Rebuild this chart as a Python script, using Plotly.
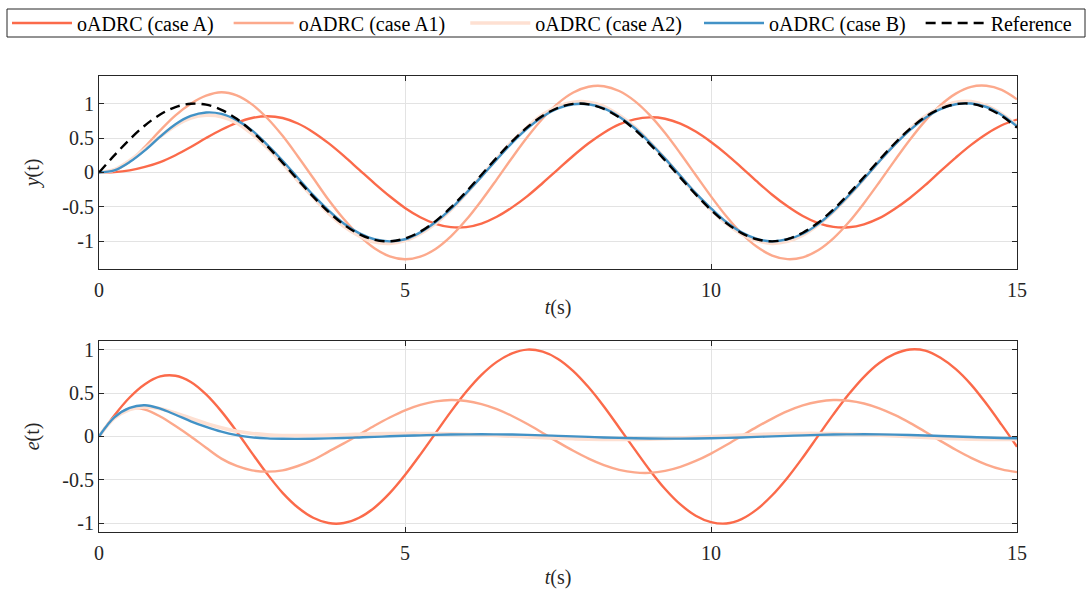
import plotly.graph_objects as go
from plotly.subplots import make_subplots

# time grid (s), 0.25 s step
t = [i * 0.25 for i in range(61)]

ref = [0.0, 0.247, 0.479, 0.682, 0.841, 0.949, 0.997, 0.984, 0.909, 0.778, 0.598, 0.382, 0.141,
       -0.108, -0.351, -0.572, -0.757, -0.895, -0.978, -0.999, -0.959, -0.859, -0.706, -0.508, -0.279,
       -0.033, 0.215, 0.450, 0.657, 0.823, 0.938, 0.995, 0.989, 0.922, 0.798, 0.625, 0.412, 0.174,
       -0.075, -0.319, -0.544, -0.735, -0.880, -0.970, -1.000, -0.967, -0.875, -0.730, -0.537, -0.312,
       -0.066, 0.182, 0.420, 0.632, 0.804, 0.925, 0.991, 0.997, 0.935, 0.819, 0.650]

y_A = [0.0, 0.005, 0.03, 0.08, 0.15, 0.25, 0.37, 0.50, 0.62, 0.72, 0.79, 0.815, 0.79,
       0.71, 0.585, 0.425, 0.24, 0.041, -0.158, -0.346, -0.515, -0.650, -0.745, -0.794, -0.793,
       -0.742, -0.644, -0.507, -0.343, -0.153, 0.045, 0.242, 0.423, 0.577, 0.697, 0.771, 0.800, 0.779,
       0.708, 0.593, 0.442, 0.267, 0.071, -0.131, -0.323, -0.492, -0.633, -0.736, -0.791, -0.796,
       -0.753, -0.664, -0.530, -0.370, -0.185, 0.019, 0.216, 0.400, 0.559, 0.685, 0.768]

y_A1 = [0.0, 0.027, 0.159, 0.372, 0.611, 0.829, 0.997, 1.114, 1.164, 1.118, 0.988, 0.787, 0.531,
        0.232, -0.081, -0.397, -0.677, -0.915, -1.101, -1.217, -1.260, -1.222, -1.110, -0.928, -0.688,
        -0.406, -0.100, 0.214, 0.514, 0.783, 1.003, 1.160, 1.244, 1.252, 1.182, 1.039, 0.831, 0.571,
        0.275, -0.037, -0.347, -0.636, -0.886, -1.080, -1.206, -1.258, -1.232, -1.130, -0.957, -0.724,
        -0.446, -0.142, 0.172, 0.475, 0.749, 0.976, 1.144, 1.243, 1.258, 1.198, 1.061]

y_A2 = [0.0, 0.04, 0.17, 0.34, 0.52, 0.68, 0.79, 0.83, 0.81, 0.72, 0.56, 0.36, 0.13,
        -0.12, -0.36, -0.59, -0.78, -0.92, -1.01, -1.03, -0.99, -0.89, -0.74, -0.54, -0.305,
        -0.05, 0.20, 0.45, 0.66, 0.84, 0.96, 1.02, 1.02, 0.96, 0.83, 0.66, 0.44, 0.20,
        -0.06, -0.31, -0.54, -0.74, -0.895, -0.99, -1.03, -1.00, -0.91, -0.76, -0.57, -0.34,
        -0.09, 0.17, 0.41, 0.63, 0.815, 0.94, 1.02, 1.03, 0.97, 0.85, 0.68]

y_B = [0.0, 0.03, 0.15, 0.32, 0.52, 0.70, 0.82, 0.87, 0.85, 0.76, 0.61, 0.40, 0.17,
       -0.08, -0.33, -0.55, -0.74, -0.88, -0.97, -1.00, -0.97, -0.87, -0.72, -0.53, -0.30,
       -0.06, 0.19, 0.43, 0.64, 0.81, 0.93, 0.99, 0.99, 0.93, 0.81, 0.645, 0.435, 0.20,
       -0.05, -0.30, -0.52, -0.72, -0.87, -0.965, -1.00, -0.97, -0.89, -0.75, -0.56, -0.335,
       -0.09, 0.16, 0.40, 0.615, 0.79, 0.92, 0.99, 1.00, 0.95, 0.835, 0.67]

e_A = [0.0, 0.242, 0.449, 0.602, 0.691, 0.699, 0.627, 0.484, 0.289, 0.058, -0.192, -0.433, -0.649,
       -0.818, -0.936, -0.997, -0.997, -0.936, -0.820, -0.653, -0.444, -0.209, 0.039, 0.286, 0.514,
       0.709, 0.859, 0.957, 1.000, 0.976, 0.893, 0.753, 0.566, 0.345, 0.101, -0.146, -0.388, -0.605,
       -0.783, -0.912, -0.986, -1.002, -0.951, -0.839, -0.677, -0.475, -0.242, 0.007, 0.254, 0.485,
       0.687, 0.846, 0.950, 1.002, 0.989, 0.906, 0.775, 0.597, 0.376, 0.133, -0.118]

e_A1 = [0.0, 0.22, 0.32, 0.31, 0.23, 0.12, 0.0, -0.13, -0.255, -0.34, -0.39, -0.405, -0.39,
        -0.34, -0.27, -0.175, -0.08, 0.02, 0.123, 0.218, 0.301, 0.363, 0.404, 0.420, 0.409,
        0.373, 0.315, 0.236, 0.143, 0.040, -0.065, -0.165, -0.255, -0.330, -0.384, -0.414, -0.419, -0.397,
        -0.350, -0.282, -0.197, -0.099, 0.006, 0.110, 0.206, 0.291, 0.357, 0.400, 0.420, 0.412,
        0.380, 0.324, 0.248, 0.157, 0.055, -0.051, -0.153, -0.246, -0.323, -0.379, -0.411]

e_A2 = [0.0, 0.21, 0.31, 0.34, 0.32, 0.27, 0.21, 0.15, 0.10, 0.06, 0.035, 0.02, 0.012,
        0.01, 0.012, 0.016, 0.02, 0.025, 0.03, 0.033, 0.035, 0.035, 0.034, 0.031, 0.026,
        0.019, 0.011, 0.003, -0.005, -0.013, -0.021, -0.027, -0.032, -0.034, -0.035, -0.034, -0.031, -0.025,
        -0.018, -0.010, -0.002, 0.007, 0.015, 0.022, 0.028, 0.032, 0.035, 0.035, 0.033, 0.029,
        0.023, 0.015, 0.007, -0.002, -0.011, -0.019, -0.026, -0.031, -0.034, -0.035, -0.034]

e_B = [0.0, 0.22, 0.33, 0.36, 0.32, 0.25, 0.175, 0.11, 0.055, 0.015, -0.01, -0.022, -0.027,
       -0.028, -0.026, -0.022, -0.017, -0.011, -0.005, 0.002, 0.008, 0.013, 0.018, 0.022, 0.024,
       0.025, 0.024, 0.022, 0.018, 0.013, 0.007, 0.001, -0.005, -0.011, -0.016, -0.020, -0.023, -0.025,
       -0.025, -0.023, -0.020, -0.016, -0.011, -0.005, 0.001, 0.007, 0.013, 0.018, 0.022, 0.024,
       0.025, 0.024, 0.021, 0.017, 0.012, 0.006, 0.000, -0.006, -0.012, -0.017, -0.021]

names = ["oADRC (case A)", "oADRC (case A1)", "oADRC (case A2)", "oADRC (case B)", "Reference"]
legend_pad = [2, 3, 0, 2, 0]            # non-breaking spaces after legend labels
legend_ids = ["legend", "legend", "legend", "legend2", "legend2"]
colors = ["#FB6A4A", "#FCA98C", "#FEE0D2", "#4292C6", "#000000"]
widths = [2.4, 2.4, 3.6, 2.4, 2.4]

x_ticks = [0, 5, 10, 15]
y_ticks = [-1, -0.5, 0, 0.5, 1]
y_ticktext = ["-1", "-0.5", "0", "0.5", "1"]

for arr in [ref, y_A, y_A1, y_A2, y_B, e_A, e_A1, e_A2, e_B]:
    assert len(arr) == len(t)

FONT = "Liberation Serif, Times New Roman, Times, serif"
FS = 20
TXT = "#262626"
W, H = 1088, 595
ML, MR, MT, MB = 99, 71, 76, 63
PH = H - MT - MB

fig = make_subplots(rows=2, cols=1, vertical_spacing=0.158)

top_series = [y_A, y_A1, y_A2, y_B, ref]
for i, ys in enumerate(top_series):
    fig.add_trace(go.Scatter(
        x=t, y=ys, mode="lines", name=names[i] + "\u00a0" * legend_pad[i],
        line=dict(color=colors[i], width=widths[i], shape="spline", smoothing=1.0,
                  dash="10px,6px" if i == 4 else "solid"),
        legend=legend_ids[i], legendgroup=names[i], showlegend=True), row=1, col=1)

bot_series = [e_A, e_A1, e_A2, e_B]
for i, ys in enumerate(bot_series):
    fig.add_trace(go.Scatter(
        x=t, y=ys, mode="lines", name=names[i],
        line=dict(color=colors[i], width=widths[i], shape="spline", smoothing=1.0),
        legend=legend_ids[i], legendgroup=names[i], showlegend=False), row=2, col=1)

axis_common = dict(
    showline=True, linecolor=TXT, linewidth=1, mirror="allticks",
    ticks="inside", ticklen=5, tickcolor=TXT,
    showgrid=True, gridcolor="#e3e3e3", gridwidth=1,
    zeroline=False, automargin=False,
    tickfont=dict(family=FONT, size=FS, color=TXT),
)

for r, so in ((1, 0), (2, 6)):
    fig.update_xaxes(range=[0, 15], tickvals=x_ticks, ticktext=[str(v) for v in x_ticks],
                     ticklabelstandoff=3,
                     title=dict(text="<i>t</i>(s)", font=dict(family=FONT, size=FS, color=TXT),
                                standoff=so),
                     **axis_common, row=r, col=1)

fig.update_yaxes(range=[-1.4, 1.4], tickvals=y_ticks, ticktext=y_ticktext,
                 title=dict(text="<i>y</i>(t)", font=dict(family=FONT, size=FS, color=TXT),
                            standoff=17),
                 **axis_common, row=1, col=1)
fig.update_yaxes(range=[-1.1, 1.1], tickvals=y_ticks, ticktext=y_ticktext,
                 title=dict(text="<i>e</i>(t)", font=dict(family=FONT, size=FS, color=TXT),
                            standoff=17),
                 **axis_common, row=2, col=1)

leg_common = dict(orientation="h", xref="container", yref="container",
                  xanchor="left", yanchor="middle", y=1 - 23 / H,
                  borderwidth=0, bgcolor="rgba(0,0,0,0)",
                  font=dict(family=FONT, size=FS, color="#000000"),
                  itemwidth=60, tracegroupgap=0)

fig.update_layout(
    width=W, height=H,
    margin=dict(l=ML, r=MR, t=MT, b=MB),
    plot_bgcolor="white", paper_bgcolor="white",
    font=dict(family=FONT, size=FS, color="#000000"),
    legend=dict(x=7 / W, **leg_common),
    legend2=dict(x=699 / W, **leg_common),
)
fig.update_layout(yaxis=dict(domain=[0.577, 1.0]), yaxis2=dict(domain=[0.0, 0.419]))

# frame around both legend blocks (legend box: x 7..1085 px, y 9..37 px)
fig.add_shape(type="rect", xref="paper", yref="paper",
              x0=(7 - ML) / (W - ML - MR), x1=(1085 - ML) / (W - ML - MR),
              y0=1 + (MT - 37) / PH, y1=1 + (MT - 9) / PH,
              line=dict(color=TXT, width=1), fillcolor="rgba(0,0,0,0)", layer="above")

fig.write_html("out.html", config={"displayModeBar": False},
               post_script="document.body.style.margin='0px';")
